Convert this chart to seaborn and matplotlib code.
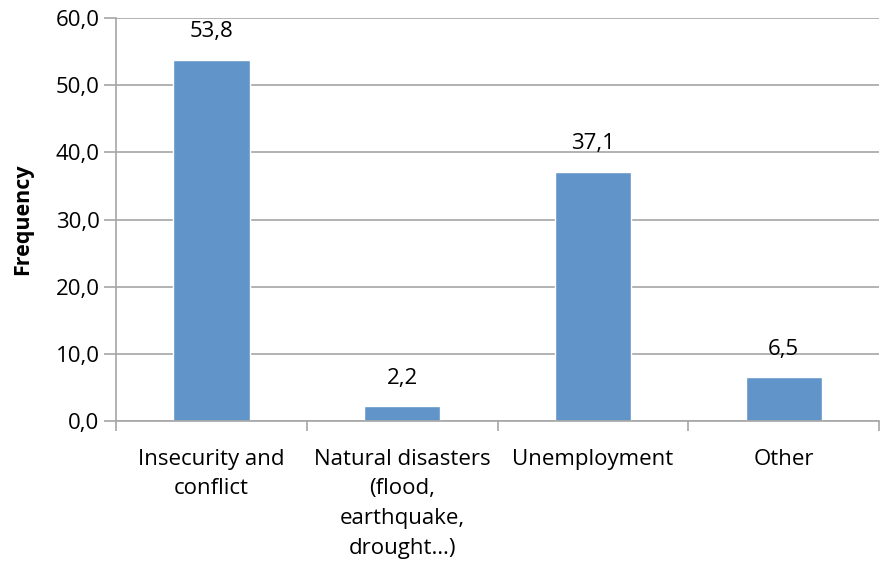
import numpy as np
import pandas as pd
import matplotlib.pyplot as plt
import seaborn as sns

categories = ['Insecurity and\nconflict', 'Natural disasters\n(flood,\nearthquake,\ndrought…)',
              'Unemployment', 'Other']
values = [53.8, 2.2, 37.1, 6.5]
yticks = [0, 10, 20, 30, 40, 50, 60]

df = pd.DataFrame({'cause': categories, 'freq': values})

sns.set_style('white', {'text.color': 'black', 'xtick.color': 'black', 'ytick.color': 'black',
                        'axes.labelcolor': 'black'})
plt.rcParams['font.family'] = ['Open Sans', 'DejaVu Sans']

fig = plt.figure(figsize=(8.8, 5.68), dpi=100)
ax = fig.add_axes([0.132, 0.259, 0.867, 0.709])

sns.barplot(data=df, x='cause', y='freq', color='#6195c9', saturation=1, width=0.4, ax=ax)

ax.set_ylim(0, 60)
ax.set_xlim(-0.5, len(categories) - 0.5)
ax.set_yticks(yticks)
ax.set_yticklabels([f'{t:.1f}'.replace('.', ',') for t in yticks], fontsize=16)
ax.yaxis.grid(True, color='#a6a6a6', linewidth=1.2)
ax.set_axisbelow(True)

# category boundary ticks like Excel
ax.set_xticks(np.arange(len(categories)))
ax.set_xticklabels(categories, fontsize=16, linespacing=1.55)
ax.set_xticks(np.arange(len(categories) + 1) - 0.5, minor=True)
ax.tick_params(axis='x', which='major', length=0, pad=20)
ax.tick_params(axis='x', which='minor', length=7, width=1.2, color='#a6a6a6', direction='out', bottom=True)
ax.tick_params(axis='y', length=9, width=1.2, color='#a6a6a6', labelcolor='black', direction='out', left=True, pad=3)

for s in ['top', 'right']:
    ax.spines[s].set_visible(False)
for s in ['left', 'bottom']:
    ax.spines[s].set_color('#a6a6a6')
    ax.spines[s].set_linewidth(1.2)

for i, v in enumerate(values):
    ax.text(i, v + 2.6, f'{v:.1f}'.replace('.', ','), ha='center', va='bottom', fontsize=16, color='black')

ax.set_xlabel('')
ax.set_ylabel('Frequency', fontsize=15.5, fontweight='bold', labelpad=16, color='black')

fig.savefig('out.png', dpi=100)
